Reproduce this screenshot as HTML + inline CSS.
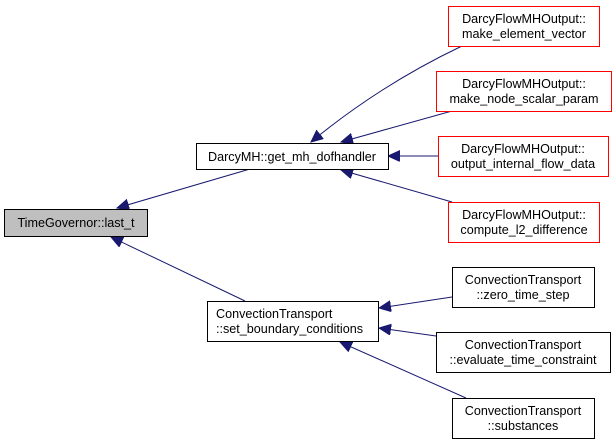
<!DOCTYPE html>
<html><head><meta charset="utf-8"><style>
html,body{margin:0;padding:0;background:#fff;}
svg{display:block;}
text{font-family:"Liberation Sans",Arial,sans-serif;font-size:12.6px;fill:#000;}
</style></head><body>
<svg width="616" height="444" viewBox="0 0 616 444" xmlns="http://www.w3.org/2000/svg">
<defs>
<marker id="a" markerWidth="14" markerHeight="12" refX="12" refY="5.5" orient="auto" markerUnits="userSpaceOnUse">
<path d="M0,0 L12,5.5 L0,11 z" fill="#191970" stroke="#191970"/>
</marker>
</defs>
<g stroke="#191970" stroke-width="1" fill="none">
<path d="M250,169 L117,208" marker-end="url(#a)"/>
<path d="M245,301 L111,237" marker-end="url(#a)"/>
<path d="M462,46 Q380,85 311,142" marker-end="url(#a)"/>
<path d="M452,111 L341,142" marker-end="url(#a)"/>
<path d="M438,156 L388,156" marker-end="url(#a)"/>
<path d="M452,202 L341,170" marker-end="url(#a)"/>
<path d="M452,297 L379,308" marker-end="url(#a)"/>
<path d="M436,336 L379,328" marker-end="url(#a)"/>
<path d="M466,398 L340,342" marker-end="url(#a)"/>
</g>
<rect x="4.5" y="209.5" width="143" height="27" fill="#bfbfbf" stroke="#000"/>
<text x="76" y="227" text-anchor="middle">TimeGovernor::last_t</text>
<rect x="196.5" y="143.5" width="192" height="26" fill="#fff" stroke="#000"/>
<text x="292" y="161" text-anchor="middle">DarcyMH::get_mh_dofhandler</text>
<rect x="207.5" y="301.5" width="171" height="40" fill="#fff" stroke="#000"/>
<text x="216" y="318">ConvectionTransport</text>
<text x="216" y="333">::set_boundary_conditions</text>
<g fill="#fff" stroke="#ff0000">
<rect x="448.5" y="6.5" width="151" height="40"/>
<rect x="436.5" y="71.5" width="175" height="40"/>
<rect x="438.5" y="136.5" width="170" height="40"/>
<rect x="448.5" y="202.5" width="151" height="40"/>
</g>
<g fill="#fff" stroke="#000">
<rect x="452.5" y="267.5" width="142" height="40"/>
<rect x="436.5" y="332.5" width="174" height="40"/>
<rect x="452.5" y="398.5" width="142" height="40"/>
</g>
<g text-anchor="middle">
<text x="524" y="23">DarcyFlowMHOutput::</text><text x="524" y="38">make_element_vector</text>
<text x="524" y="88">DarcyFlowMHOutput::</text><text x="524" y="103">make_node_scalar_param</text>
<text x="523" y="153">DarcyFlowMHOutput::</text><text x="523" y="168">output_internal_flow_data</text>
<text x="524" y="219">DarcyFlowMHOutput::</text><text x="524" y="234">compute_l2_difference</text>
<text x="523" y="284">ConvectionTransport</text><text x="523" y="299">::zero_time_step</text>
<text x="523" y="349">ConvectionTransport</text><text x="523" y="364">::evaluate_time_constraint</text>
<text x="523" y="415">ConvectionTransport</text><text x="523" y="430">::substances</text>
</g>
</svg>
</body></html>
